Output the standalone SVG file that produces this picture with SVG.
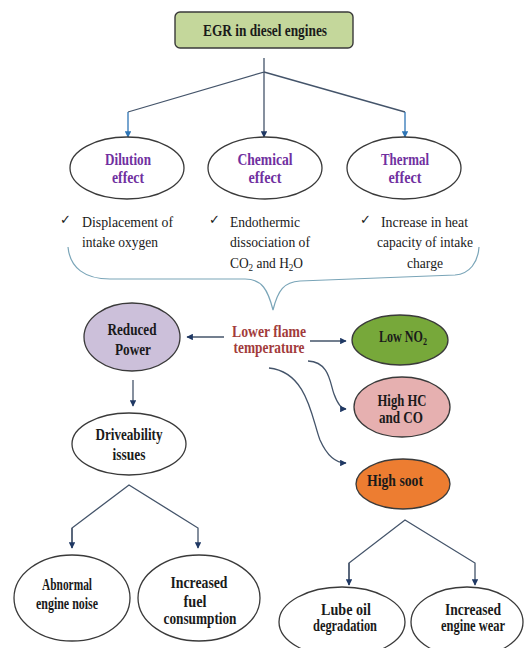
<svg xmlns="http://www.w3.org/2000/svg" width="525" height="648" viewBox="0 0 525 648">
<defs>
<marker id="ah" viewBox="0 0 10 10" refX="9" refY="5" markerWidth="5" markerHeight="5" orient="auto"><path d="M0,0 L10,5 L0,10 z" fill="#1f3864"/></marker>
<marker id="ahb" viewBox="0 0 10 10" refX="9" refY="5" markerWidth="5" markerHeight="5" orient="auto"><path d="M0,0 L10,5 L0,10 z" fill="#2e75b6"/></marker>
<style>
text{font-family:'Liberation Serif','Times New Roman','DejaVu Serif',serif}
.lbl{font-weight:bold;font-size:16.5px;fill:#1a1a1a;text-anchor:middle}
.pur{fill:#7030a0}
.red{fill:#a23b3b}
.chk{font-size:15.5px;fill:#1a1a1a}
.tick{font-family:'DejaVu Sans',sans-serif;font-size:13px;fill:#1a1a1a}
.ell{stroke:#3a3a3a;stroke-width:1.3}
.con{fill:none;stroke:#44546a;stroke-width:1.3}
.blu{fill:none;stroke:#2e75b6;stroke-width:1.3}
.brace{fill:none;stroke:#7aa5b8;stroke-width:1.2}
</style>
</defs>
<rect width="525" height="648" fill="#ffffff"/>

<g id="connectors">
<path class="con" d="M264,58 V72 L128,112"/>
<path class="blu" d="M128,112 V137" marker-end="url(#ahb)"/>
<path class="con" d="M264,72 V137" marker-end="url(#ah)"/>
<path class="con" d="M264,72 L405,112"/>
<path class="blu" d="M405,112 V137" marker-end="url(#ahb)"/>
<path class="brace" d="M68,247 C70,268 85,279 110,279 L245,279 C262,279 268,290 273,310 C278,290 284,282 300,281 L455,275 C470,274 478,262 479,247"/>
<path class="con" d="M224,337 H187" marker-end="url(#ah)"/>
<path class="con" d="M310,341 H346" marker-end="url(#ah)"/>
<path class="con" d="M308,361 C330,362 330,384 334,394 C338,405 342,409 346,409" marker-end="url(#ah)"/>
<path class="con" d="M269,368 C308,372 312,420 320,440 C328,458 338,463 346,463" marker-end="url(#ah)"/>
<path class="con" d="M133,380 V406" marker-end="url(#ah)"/>
<path class="con" d="M72,548 V528 L129,485 L198,528 V548" marker-end="url(#ah)"/>
<path class="con" d="M72,528 V548" marker-end="url(#ah)"/>
<path class="con" d="M349,585 V563 L405,520 L475,563 V585" marker-end="url(#ah)"/>
<path class="con" d="M349,563 V585" marker-end="url(#ah)"/>
</g>

<g id="title">
<rect x="175" y="12" width="178" height="36" rx="5" fill="#c4d79b" stroke="#3a3a3a" stroke-width="1.4"/>
<text class="lbl" x="265" y="36" style="font-size:17.5px" textLength="124" lengthAdjust="spacingAndGlyphs">EGR in diesel engines</text>
</g>

<g id="dilution">
<ellipse class="ell" cx="127" cy="168" rx="57" ry="31" fill="#ffffff"/>
<text class="lbl pur" x="128" y="165" textLength="46" lengthAdjust="spacingAndGlyphs">Dilution</text>
<text class="lbl pur" x="128" y="183" textLength="32" lengthAdjust="spacingAndGlyphs">effect</text>
</g>
<g id="chemical">
<ellipse class="ell" cx="265" cy="168" rx="57" ry="31" fill="#ffffff"/>
<text class="lbl pur" x="265" y="165" textLength="55" lengthAdjust="spacingAndGlyphs">Chemical</text>
<text class="lbl pur" x="265" y="183" textLength="33" lengthAdjust="spacingAndGlyphs">effect</text>
</g>
<g id="thermal">
<ellipse class="ell" cx="404" cy="168" rx="57" ry="31" fill="#ffffff"/>
<text class="lbl pur" x="405" y="165" textLength="48" lengthAdjust="spacingAndGlyphs">Thermal</text>
<text class="lbl pur" x="405" y="183" textLength="33" lengthAdjust="spacingAndGlyphs">effect</text>
</g>

<g id="list-dilution">
<text class="tick" x="60" y="224">✓</text>
<text class="chk" x="82" y="227" textLength="91" lengthAdjust="spacingAndGlyphs">Displacement of</text>
<text class="chk" x="82" y="247" textLength="76" lengthAdjust="spacingAndGlyphs">intake oxygen</text>
</g>
<g id="list-chemical">
<text class="tick" x="209" y="224">✓</text>
<text class="chk" x="230" y="227" textLength="70" lengthAdjust="spacingAndGlyphs">Endothermic</text>
<text class="chk" x="230" y="247" textLength="80" lengthAdjust="spacingAndGlyphs">dissociation of</text>
<text class="chk" x="230" y="268" textLength="73" lengthAdjust="spacingAndGlyphs">CO<tspan font-size="10.5" baseline-shift="-3">2</tspan> and H<tspan font-size="10.5" baseline-shift="-3">2</tspan>O</text>
</g>
<g id="list-thermal">
<text class="tick" x="360" y="224">✓</text>
<text class="chk" x="381" y="227" textLength="87" lengthAdjust="spacingAndGlyphs">Increase in heat</text>
<text class="chk" x="377" y="247" textLength="96" lengthAdjust="spacingAndGlyphs">capacity of intake</text>
<text class="chk" x="407" y="268" textLength="36" lengthAdjust="spacingAndGlyphs">charge</text>
</g>

<g id="reduced-power">
<ellipse class="ell" cx="132" cy="337" rx="48" ry="34" fill="#ccc0da"/>
<text class="lbl" x="132" y="335" textLength="49" lengthAdjust="spacingAndGlyphs">Reduced</text>
<text class="lbl" x="133" y="355" textLength="36" lengthAdjust="spacingAndGlyphs">Power</text>
</g>

<g id="lower-flame">
<text class="lbl red" x="269" y="337" textLength="74" lengthAdjust="spacingAndGlyphs">Lower flame</text>
<text class="lbl red" x="269" y="353" textLength="71" lengthAdjust="spacingAndGlyphs">temperature</text>
</g>

<g id="low-nox">
<ellipse class="ell" cx="400" cy="340" rx="48" ry="25" fill="#77a83a"/>
<text class="lbl" x="403" y="342" textLength="48" lengthAdjust="spacingAndGlyphs">Low NO<tspan font-size="11" baseline-shift="-3">2</tspan></text>
</g>

<g id="high-hc">
<ellipse class="ell" cx="402" cy="407" rx="48" ry="30" fill="#e6b0b0"/>
<text class="lbl" x="402" y="406" textLength="49" lengthAdjust="spacingAndGlyphs">High HC</text>
<text class="lbl" x="401" y="423" textLength="44" lengthAdjust="spacingAndGlyphs">and CO</text>
</g>

<g id="high-soot">
<ellipse class="ell" cx="403" cy="484" rx="47" ry="25" fill="#ed7d31"/>
<text class="lbl" x="395" y="486" textLength="56" lengthAdjust="spacingAndGlyphs">High soot</text>
</g>

<g id="driveability">
<ellipse class="ell" cx="129" cy="444" rx="57" ry="31" fill="#ffffff"/>
<text class="lbl" x="129" y="440" textLength="67" lengthAdjust="spacingAndGlyphs">Driveability</text>
<text class="lbl" x="129" y="460" textLength="33" lengthAdjust="spacingAndGlyphs">issues</text>
</g>

<g id="abnormal-noise">
<ellipse class="ell" cx="72" cy="598" rx="58" ry="43" fill="#ffffff"/>
<text class="lbl" x="67" y="590" textLength="50" lengthAdjust="spacingAndGlyphs">Abnormal</text>
<text class="lbl" x="67" y="609" textLength="62" lengthAdjust="spacingAndGlyphs">engine noise</text>
</g>

<g id="fuel-consumption">
<ellipse class="ell" cx="199" cy="598" rx="61" ry="43" fill="#ffffff"/>
<text class="lbl" x="199" y="588" textLength="57" lengthAdjust="spacingAndGlyphs">Increased</text>
<text class="lbl" x="195" y="607" textLength="23" lengthAdjust="spacingAndGlyphs">fuel</text>
<text class="lbl" x="200" y="624" textLength="73" lengthAdjust="spacingAndGlyphs">consumption</text>
</g>

<g id="lube-oil">
<ellipse class="ell" cx="342" cy="622" rx="63" ry="35" fill="#ffffff"/>
<text class="lbl" x="346" y="615" textLength="50" lengthAdjust="spacingAndGlyphs">Lube oil</text>
<text class="lbl" x="345" y="631" textLength="64" lengthAdjust="spacingAndGlyphs">degradation</text>
</g>

<g id="engine-wear">
<ellipse class="ell" cx="467" cy="622" rx="56" ry="35" fill="#ffffff"/>
<text class="lbl" x="473" y="615" textLength="56" lengthAdjust="spacingAndGlyphs">Increased</text>
<text class="lbl" x="473" y="631" textLength="64" lengthAdjust="spacingAndGlyphs">engine wear</text>
</g>
</svg>
